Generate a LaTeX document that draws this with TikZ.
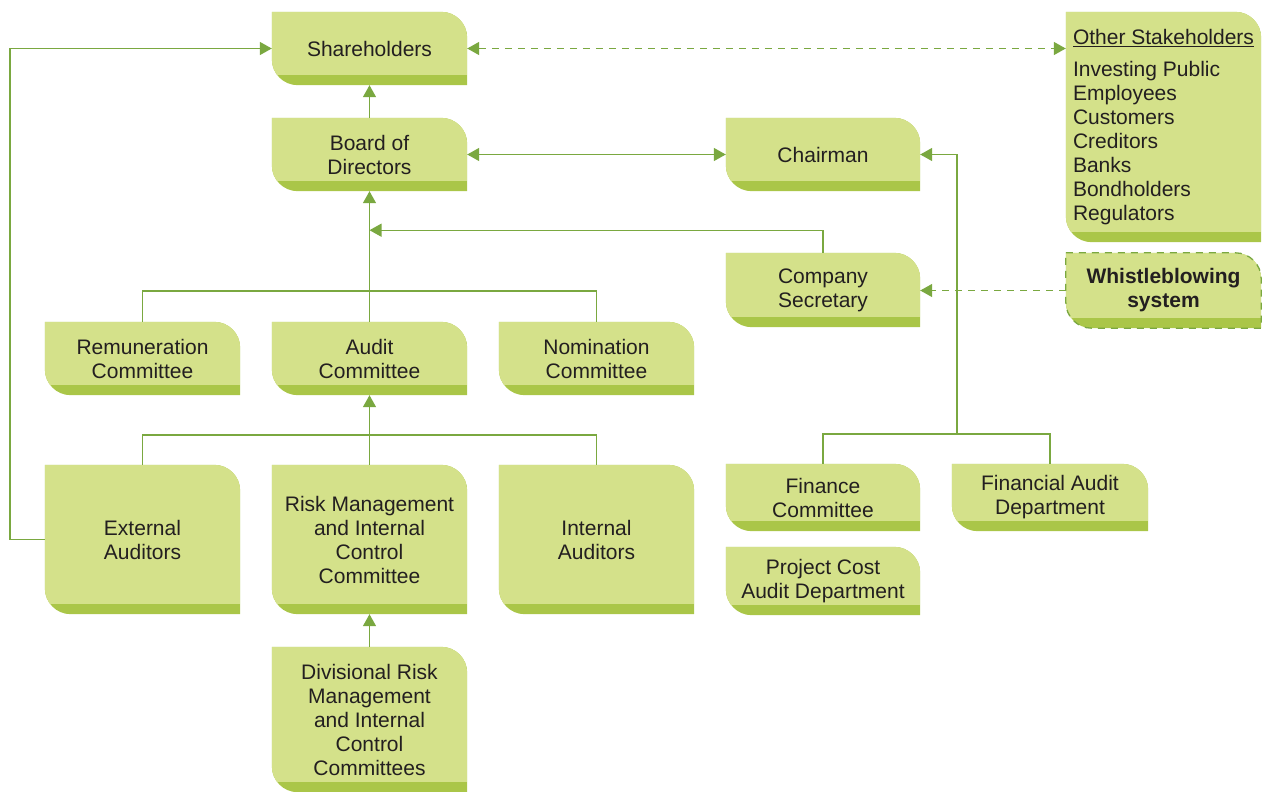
\documentclass[tikz,border=0pt]{standalone}
\usepackage{fontspec}
\setmainfont{Liberation Sans}
\usetikzlibrary{arrows.meta,calc,backgrounds}
\definecolor{glight}{HTML}{D4E18A}
\definecolor{gdark}{HTML}{AAC648}
\definecolor{gline}{HTML}{7AA840}
\definecolor{gtext}{HTML}{231F20}
\newcommand\gshape[1]{(#1.north west) -- ([xshift=-26pt]#1.north east) arc[start angle=90,end angle=0,radius=26pt] -- (#1.south east) -- ([xshift=26pt]#1.south west) arc[start angle=270,end angle=180,radius=26pt] -- cycle}
\newcommand\gbg[1]{\fill[gdark] \gshape{#1}; \begin{scope}\clip \gshape{#1}; \fill[glight] ([yshift=10pt]#1.south west) rectangle (#1.north east);\end{scope}}
\begin{document}
\begin{tikzpicture}[x=1pt,y=1pt,
  box/.style={rectangle,inner sep=0pt,align=center,text=gtext,font=\fontsize{21}{24}\selectfont},
  sz/.style 2 args={minimum width=#1pt,minimum height=#2pt},
  con/.style={draw=gline,line width=1.4pt},
  tip/.tip={Triangle[length=12pt,width=13pt]},
  arr/.style={con,-tip},
  arrs/.style={con,tip-tip},
  dsh/.style={dash pattern=on 7pt off 6pt}]
\useasboundingbox (0,0) rectangle (1267,-792);
% nodes
\node[box,sz={195}{73}] (sh) at (369.5,-48.5) {Shareholders};
\node[box,sz={195}{73}] (bd) at (369.5,-154.5) {Board of\\Directors};
\node[box,sz={194}{73}] (ch) at (823,-154.5) {Chairman};
\node[box,sz={195}{230},align=left] (os) at (1163.5,-127) {\underline{Other Stakeholders}\\[8pt]Investing Public\\Employees\\Customers\\Creditors\\Banks\\Bondholders\\Regulators};
\node[box,sz={195}{75},font=\fontsize{21}{24}\selectfont\bfseries] (wb) at (1163.5,-290.5) {Whistleblowing\\system};
\node[box,sz={194}{74}] (cs) at (823,-290) {Company\\Secretary};
\node[box,sz={195}{73}] (rc) at (142.5,-358.5) {Remuneration\\Committee};
\node[box,sz={195}{73}] (ac) at (369.5,-358.5) {Audit\\Committee};
\node[box,sz={195}{73}] (nc) at (596.5,-358.5) {Nomination\\Committee};
\node[box,sz={195}{149}] (ea) at (142.5,-539.5) {External\\Auditors};
\node[box,sz={195}{149}] (rm) at (369.5,-539.5) {Risk Management\\and Internal\\Control\\Committee};
\node[box,sz={195}{149}] (ia) at (596.5,-539.5) {Internal\\Auditors};
\node[box,sz={194}{67}] (fc) at (823,-497.5) {Finance\\Committee};
\node[box,sz={196}{67}] (fa) at (1050,-497.5) {Financial Audit\\Department};
\node[box,sz={194}{68}] (pc) at (823,-581) {Project Cost\\Audit Department};
\node[box,sz={195}{145}] (dv) at (369.5,-719.5) {Divisional Risk\\Management\\and Internal\\Control\\Committees};
% backgrounds
\begin{pgfonlayer}{background}
\foreach \n in {sh,bd,ch,os,wb,cs,rc,ac,nc,ea,rm,ia,fc,fa,pc,dv}{\gbg{\n}}
\end{pgfonlayer}
\draw[gline,line width=1.3pt,dsh] \gshape{wb};
% connectors
\draw[arr] (bd.north) -- (sh.south);
\draw[arrs] (bd.east) -- (ch.west);
\draw[arrs,dsh] (sh.east) -- (os.west |- sh.east);
\draw[arr] (ea.west) -- ++(-35,0) |- (sh.west);
\draw[arr] (ac.north) -- (bd.south);
\draw[con] (rc.north) -- ++(0,31) -| (nc.north);
\coordinate (j1) at ($(bd.south)+(0,-39)$);
\draw[arr] (cs.north) |- (j1);
\draw[con] (ea.north) -- ++(0,30) -| (ia.north);
\draw[arr] (rm.north) -- (ac.south);
\draw[arr] (dv.north) -- (rm.south);
\draw[con] (fc.north) -- ++(0,30) -| (fa.north);
\coordinate (j2) at (957,-434);
\draw[arr] (j2) |- (ch.east);
\draw[arr,dsh] (wb.west) -- (cs.east |- wb.west);
\end{tikzpicture}
\end{document}
